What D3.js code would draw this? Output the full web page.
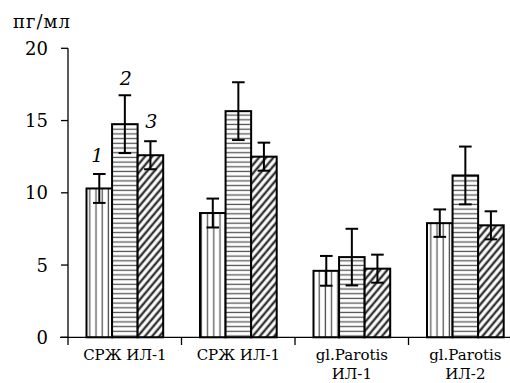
<!DOCTYPE html>
<html>
<head>
<meta charset="utf-8">
<script src="https://cdn.jsdelivr.net/npm/d3@7"></script>
<style>
  body { margin: 0; background: #fff; }
</style>
</head>
<body>
<svg id="chart" width="510" height="383"></svg>
<script>
// data
var categories = [["СРЖ ИЛ-1"], ["СРЖ ИЛ-1"], ["gl.Parotis", "ИЛ-1"], ["gl.Parotis", "ИЛ-2"]];
var series = ["1", "2", "3"];
var values = [
    [10.3, 14.75, 12.6],
    [8.6, 15.65, 12.5],
    [4.6, 5.55, 4.75],
    [7.9, 11.2, 7.75]
];
var errors = [
    [1.0, 2.0, 0.97],
    [1.0, 2.0, 0.97],
    [1.03, 1.96, 0.97],
    [0.95, 2.0, 0.97]
];
var yTicks = [0, 5, 10, 15, 20];

const FONT = "DejaVu Serif";
const svg = d3.select("#chart").style("font-family", FONT);

// Scales
let scale_y = d3.scaleLinear().domain([0, 20]).range([337.3, 48.3]);
let scale_x = d3.scaleBand().domain(d3.range(categories.length)).range([68, 522]);
let scale_s = d3.scaleBand().domain(series).range([18.5, 95.2]);

// Hatch patterns
const defs = svg.append("defs");
let p1 = defs.append("pattern").attr("id", "pat1").attr("patternUnits", "userSpaceOnUse")
    .attr("width", 6.2).attr("height", 10);
p1.append("line").attr("x1", 3).attr("x2", 3).attr("y1", 0).attr("y2", 10)
    .attr("stroke", "#555").attr("stroke-width", 1.3);

let p2 = defs.append("pattern").attr("id", "pat2").attr("patternUnits", "userSpaceOnUse")
    .attr("width", 10).attr("height", 4.7);
p2.append("line").attr("x1", 0).attr("x2", 10).attr("y1", 2.3).attr("y2", 2.3)
    .attr("stroke", "#555").attr("stroke-width", 1.3);

let p3 = defs.append("pattern").attr("id", "pat3").attr("patternUnits", "userSpaceOnUse")
    .attr("width", 5.5).attr("height", 10).attr("patternTransform", "rotate(40)");
p3.append("line").attr("x1", 2.7).attr("x2", 2.7).attr("y1", 0).attr("y2", 10)
    .attr("stroke", "#333").attr("stroke-width", 2.4);

const fills = ["url(#pat1)", "url(#pat2)", "url(#pat3)"];

// Bars
categories.forEach((c, i) => {
    series.forEach((s, j) => {
        let x0 = scale_x(i) + scale_s(s);
        let w = scale_s.bandwidth();
        svg.append("rect")
            .attr("x", x0).attr("y", scale_y(values[i][j]))
            .attr("width", w).attr("height", scale_y(0) - scale_y(values[i][j]))
            .attr("fill", "#fff");
        svg.append("rect")
            .attr("x", x0).attr("y", scale_y(values[i][j]))
            .attr("width", w).attr("height", scale_y(0) - scale_y(values[i][j]))
            .attr("fill", fills[j]).attr("stroke", "#000").attr("stroke-width", 2);

        // error bars
        let cx = x0 + w / 2;
        let hi = scale_y(values[i][j] + errors[i][j]);
        let lo = scale_y(values[i][j] - errors[i][j]);
        let g = svg.append("g").attr("stroke", "#000").attr("stroke-width", 2);
        g.append("line").attr("x1", cx).attr("x2", cx).attr("y1", hi).attr("y2", lo);
        g.append("line").attr("x1", cx - 6.3).attr("x2", cx + 6.3).attr("y1", hi).attr("y2", hi);
        g.append("line").attr("x1", cx - 6.3).attr("x2", cx + 6.3).attr("y1", lo).attr("y2", lo);
    });
});

// series numbers above first group
let numY = [162, 85, 128];
let numDx = [-2, 1, 1];
series.forEach((s, j) => {
    let cx = scale_x(0) + scale_s(s) + scale_s.bandwidth() / 2;
    svg.append("text")
        .attr("x", cx + numDx[j]).attr("y", numY[j])
        .attr("text-anchor", "middle")
        .attr("font-style", "italic").attr("font-size", 19)
        .text(s);
});

// Y axis
svg.append("line").attr("x1", 68).attr("x2", 68).attr("y1", scale_y(20)).attr("y2", 345)
    .attr("stroke", "#000").attr("stroke-width", 1.3);
yTicks.forEach(t => {
    svg.append("line").attr("x1", 61).attr("x2", 68).attr("y1", scale_y(t)).attr("y2", scale_y(t))
        .attr("stroke", "#000").attr("stroke-width", 1.3);
    svg.append("text").attr("x", 48).attr("y", scale_y(t) + 6.5)
        .attr("text-anchor", "end").attr("font-size", 18)
        .text(t);
});
svg.append("text").attr("x", 13).attr("y", 28).attr("font-size", 18)
    .attr("letter-spacing", 1).text("пг/мл");

// X axis
svg.append("line").attr("x1", 60).attr("x2", 510).attr("y1", scale_y(0)).attr("y2", scale_y(0))
    .attr("stroke", "#000").attr("stroke-width", 1.3);
categories.forEach((c, i) => {
    if (i > 0) {
        svg.append("line").attr("x1", scale_x(i)).attr("x2", scale_x(i))
            .attr("y1", scale_y(0)).attr("y2", 345)
            .attr("stroke", "#000").attr("stroke-width", 1.3);
    }
    let cx = scale_x(i) + scale_s(series[1]) + scale_s.bandwidth() / 2;
    c.forEach((line, k) => {
        svg.append("text").attr("x", cx).attr("y", 360 + k * 18.5)
            .attr("text-anchor", "middle").attr("font-size", 15)
            .text(line);
    });
});
</script>
</body>
</html>
